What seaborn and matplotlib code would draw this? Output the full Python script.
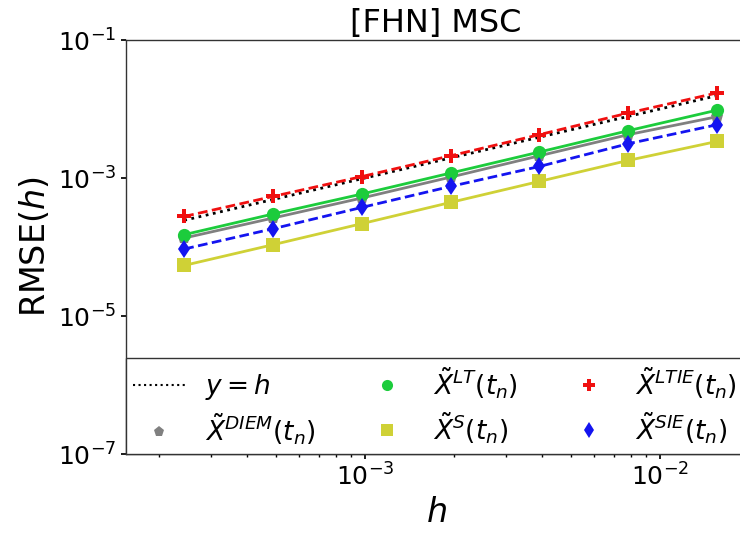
import numpy as np
import pandas as pd
import matplotlib
matplotlib.use("Agg")
import matplotlib.pyplot as plt
from matplotlib.lines import Line2D
import matplotlib.ticker as mticker
import seaborn as sns

# step sizes
h = [2.441e-4, 4.883e-4, 9.766e-4, 1.953e-3, 3.906e-3, 7.813e-3, 1.5625e-2]

# RMSE of each scheme
rmse_diem = [1.35e-4, 2.63e-4, 5.13e-4, 1.03e-3, 2.10e-3, 4.25e-3, 7.73e-3]
rmse_lt = [1.51e-4, 3.01e-4, 5.86e-4, 1.18e-3, 2.38e-3, 4.85e-3, 9.62e-3]
rmse_s = [5.41e-5, 1.08e-4, 2.18e-4, 4.43e-4, 8.93e-4, 1.80e-3, 3.39e-3]
rmse_ltie = [2.77e-4, 5.41e-4, 1.05e-3, 2.10e-3, 4.25e-3, 8.75e-3, 1.71e-2]
rmse_sie = [9.35e-5, 1.84e-4, 3.75e-4, 7.55e-4, 1.47e-3, 3.14e-3, 5.92e-3]

methods = ["DIEM", "LT", "S", "LTIE", "SIE"]
labels = {
    "DIEM": r"$\tilde{X}^{DIEM}(t_n)$",
    "LT": r"$\tilde{X}^{LT}(t_n)$",
    "S": r"$\tilde{X}^{S}(t_n)$",
    "LTIE": r"$\tilde{X}^{LTIE}(t_n)$",
    "SIE": r"$\tilde{X}^{SIE}(t_n)$",
}
values = {"DIEM": rmse_diem, "LT": rmse_lt, "S": rmse_s,
          "LTIE": rmse_ltie, "SIE": rmse_sie}

palette = {"DIEM": "#808080", "LT": "#1ccc3c", "S": "#cfd136",
           "LTIE": "#f01010", "SIE": "#1414f0"}
markers = {"DIEM": "p", "LT": "o", "S": "s", "LTIE": "P", "SIE": "d"}
dashes = {"DIEM": "", "LT": "", "S": "", "LTIE": (3.5, 1.6), "SIE": (3.5, 1.6)}

df = pd.DataFrame({
    "h": np.tile(h, len(methods)),
    "rmse": np.concatenate([values[m] for m in methods]),
    "method": np.repeat(methods, len(h)),
})

sns.set_theme(style="ticks", rc={
    "axes.edgecolor": "0.2",
    "axes.linewidth": 1.0,
    "xtick.major.size": 3.5, "xtick.minor.size": 2.0,
    "ytick.major.size": 3.5, "ytick.minor.size": 2.0,
    "xtick.color": "black", "ytick.color": "black",
    "text.color": "black", "axes.labelcolor": "black",
})
plt.rcParams["font.family"] = ["DejaVu Sans"]
plt.rcParams["mathtext.fontset"] = "dejavusans"

fig = plt.figure(figsize=(7.4, 5.33), dpi=100)
ax = fig.add_axes([0.1703, 0.1482, 0.8378, 0.7767])

# reference slope y = h
ax.plot(h, h, linestyle=":", color="black", linewidth=2, zorder=2)

sns.lineplot(data=df, x="h", y="rmse", hue="method", style="method",
             hue_order=methods, style_order=methods,
             palette=palette, markers=markers, dashes=dashes,
             linewidth=2, markersize=9.5, markeredgewidth=0,
             legend=False, ax=ax, zorder=3)

ax.set_xscale("log")
ax.set_yscale("log")
ax.set_xlim(1.55e-4, 1.96e-2)
ax.set_ylim(1e-7, 1e-1)
ax.yaxis.set_major_locator(mticker.FixedLocator([1e-7, 1e-5, 1e-3, 1e-1]))
ax.yaxis.set_minor_locator(mticker.NullLocator())
ax.tick_params(axis="both", which="major", labelsize=18)

ax.set_title("[FHN] MSC", fontsize=23, color="black")
ax.set_xlabel(r"$h$", fontsize=24)
ax.set_ylabel(r"RMSE$(h)$", fontsize=24)

handles = [Line2D([], [], linestyle=":", color="black", linewidth=1.5)]
names = [r"$y=h$"]
for m in methods:
    handles.append(Line2D([], [], linestyle="none", marker=markers[m],
                          color=palette[m], markersize=8, markeredgewidth=0))
    names.append(labels[m])

leg = ax.legend(handles, names, loc="lower left", ncol=3,
                bbox_to_anchor=(0, 0), borderaxespad=0,
                fontsize=19, fancybox=False, framealpha=1,
                edgecolor="0.2", handlelength=2.0, handletextpad=0.75,
                columnspacing=1.7, labelspacing=0.35, borderpad=0.25)
leg.get_frame().set_linewidth(1.0)

fig.savefig("out.png", dpi=100)
